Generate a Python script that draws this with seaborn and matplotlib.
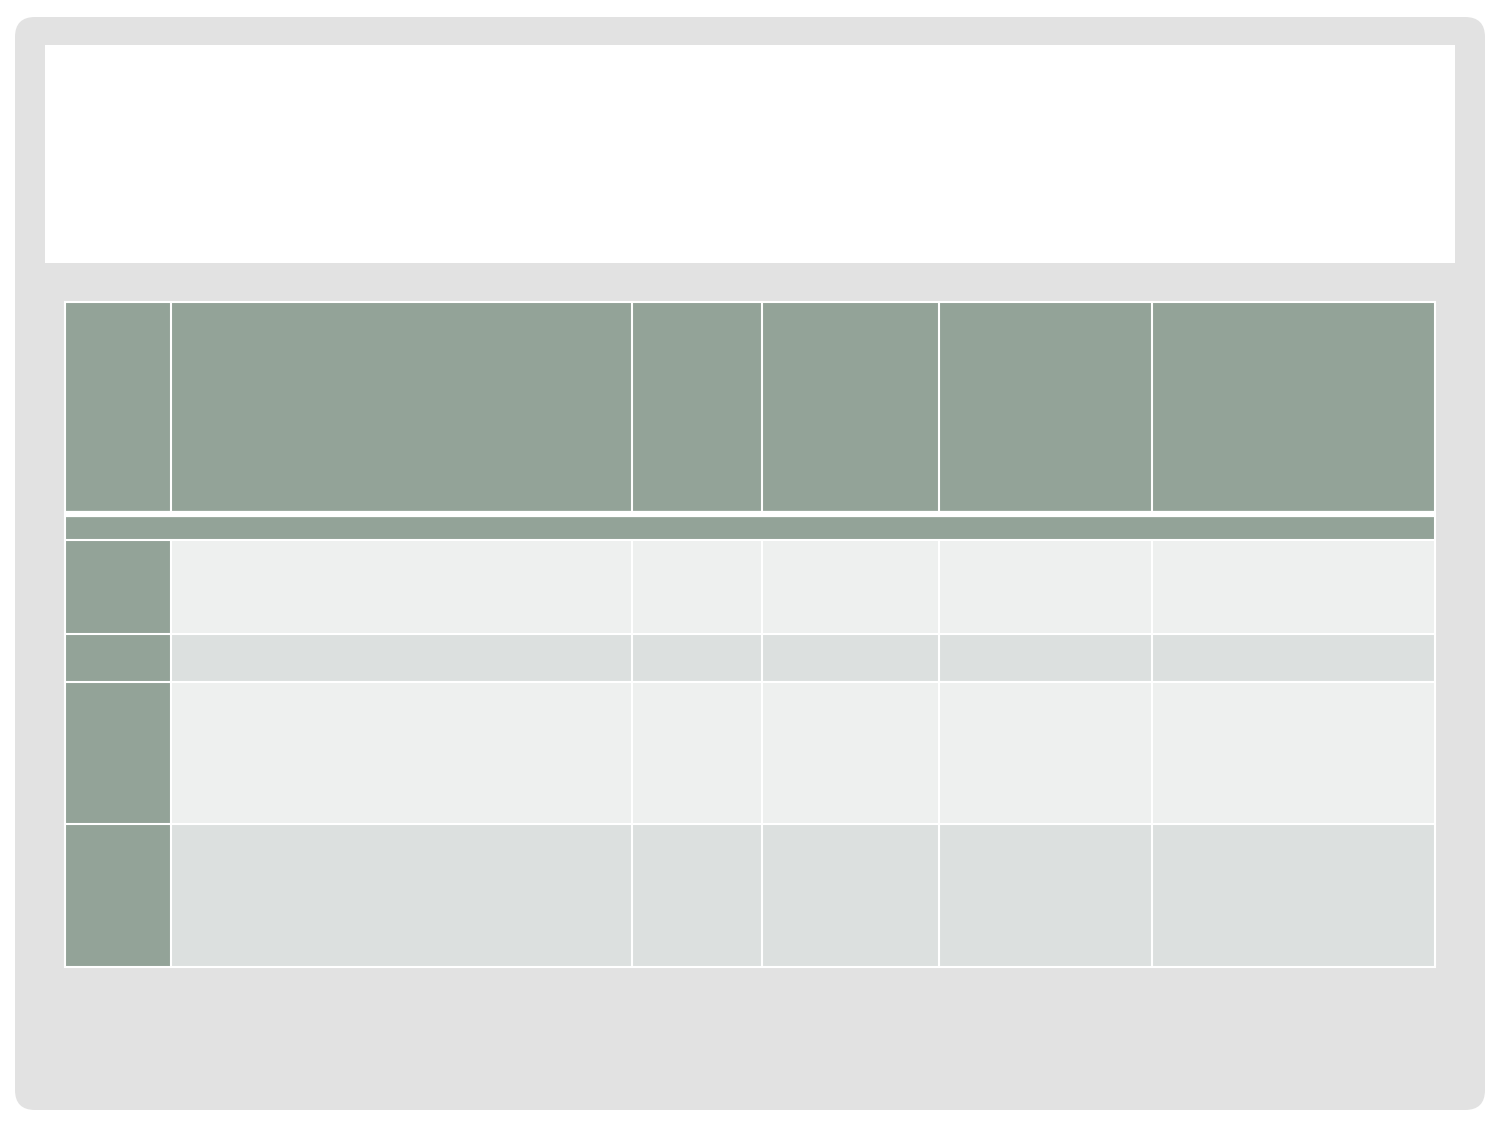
import numpy as np
import matplotlib.pyplot as plt
from matplotlib.patches import FancyBboxPatch, Rectangle
from matplotlib.colors import ListedColormap
import seaborn as sns

# table layout (pixel units of a 1500x1125 slide)
col_edges = [65, 171, 632, 762, 939, 1152, 1435]
row_edges = [302, 512, 540, 634, 682, 824, 967]
# shade of every cell: 0 = header green, 1 = light band, 2 = darker band
cell_shade = [
    [0, 0, 0, 0, 0, 0],
    [0, 0, 0, 0, 0, 0],
    [0, 1, 1, 1, 1, 1],
    [0, 2, 2, 2, 2, 2],
    [0, 1, 1, 1, 1, 1],
    [0, 2, 2, 2, 2, 2],
]
merged_rows = [1]  # the thin band under the header spans the whole width

header_col = '#93a398'
light_col = '#eef0ef'
dark_col = '#dce0df'
slide_gray = '#e2e2e2'

sns.set_theme(style='white')

fig = plt.figure(figsize=(15, 11.25), dpi=100)
ax = fig.add_axes([0, 0, 1, 1])
ax.set_xlim(0, 1500)
ax.set_ylim(1125, 0)
ax.axis('off')

# slide frame and title box
ax.add_patch(FancyBboxPatch((15 + 20, 17 + 20), 1470 - 40, 1093 - 40,
                            boxstyle='round,pad=20', fc=slide_gray, ec='none', zorder=0))
ax.add_patch(Rectangle((45, 45), 1410, 218, fc='white', ec='none', zorder=1))

# table cells
cmap = ListedColormap([header_col, light_col, dark_col])
ax.pcolormesh(col_edges, row_edges, np.array(cell_shade), cmap=cmap,
              vmin=-0.5, vmax=2.5, shading='flat', zorder=2)

# white grid lines
lw = 1.5
for i in range(len(row_edges) - 1):
    if i in merged_rows:
        continue
    ax.vlines(col_edges[1:-1], row_edges[i], row_edges[i + 1], color='white', lw=lw, zorder=3)
ax.hlines(row_edges[2:-1], col_edges[0], col_edges[-1], color='white', lw=lw, zorder=3)
ax.hlines(row_edges[1] + 2, col_edges[0], col_edges[-1], color='white', lw=4.5, zorder=3)
ax.add_patch(Rectangle((col_edges[0], row_edges[0]), col_edges[-1] - col_edges[0],
                       row_edges[-1] - row_edges[0], fc='none', ec='white', lw=lw, zorder=4))

fig.savefig('out.png', dpi=100)
